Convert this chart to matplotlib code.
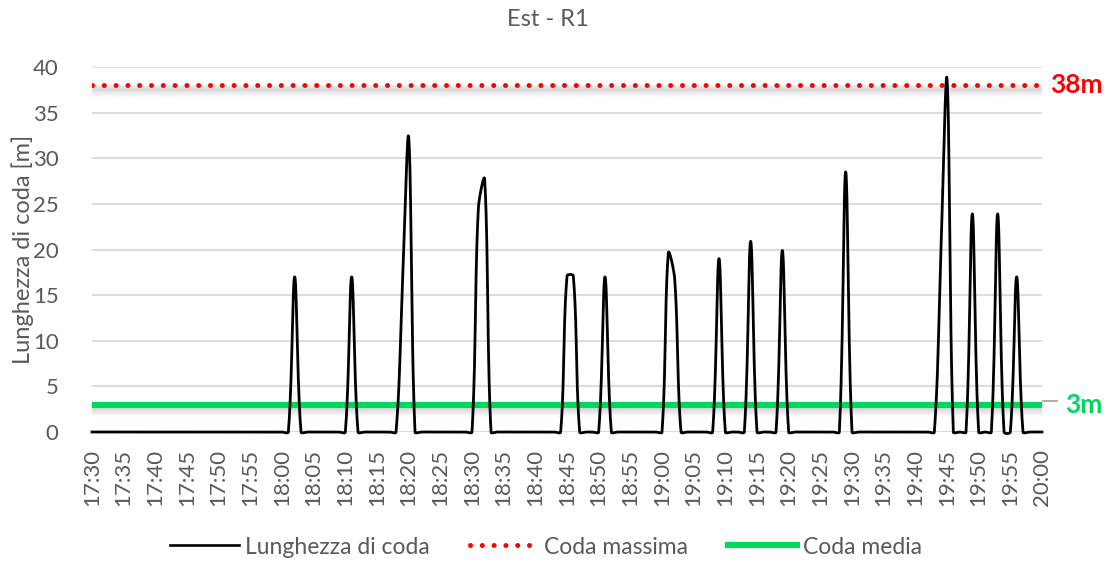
import numpy as np
import matplotlib
matplotlib.use("Agg")
import matplotlib.pyplot as plt
from matplotlib.lines import Line2D

# ---------------- data ----------------
start_label = "17:30"
end_label = "20:00"
tick_labels = ["17:30", "17:35", "17:40", "17:45", "17:50", "17:55",
               "18:00", "18:05", "18:10", "18:15", "18:20", "18:25",
               "18:30", "18:35", "18:40", "18:45", "18:50", "18:55",
               "19:00", "19:05", "19:10", "19:15", "19:20", "19:25",
               "19:30", "19:35", "19:40", "19:45", "19:50", "19:55",
               "20:00"]
queue_times = ["18:02", "18:11", "18:19", "18:20", "18:31", "18:32",
               "18:45", "18:46", "18:51", "19:01", "19:02", "19:09",
               "19:14", "19:19", "19:29", "19:44", "19:45", "19:49",
               "19:53", "19:56"]
queue_values = [17.0, 17.0, 16.0, 32.3, 24.5, 27.7,
                17.1, 17.1, 17.0, 19.6, 16.8, 19.0,
                20.9, 19.9, 28.5, 19.0, 38.7, 23.9,
                23.9, 17.0]
max_queue = 38
mean_queue = 3
max_label = "38m"
mean_label = "3m"


def to_min(s):
    h, m = s.split(":")
    return int(h) * 60 + int(m)


t0 = to_min(start_label)
n = to_min(end_label) - t0 + 1
series = np.zeros(n)
for t, v in zip(queue_times, queue_values):
    series[to_min(t) - t0] = v
xs = np.arange(n, dtype=float)

# screen scale (px per unit) used for length-weighted smoothing
PX_X = 950 / (n - 1)
PX_Y = 365 / 40


def smooth(x, y, steps=24, s=1 / 3):
    X = x * PX_X
    Y = y * PX_Y
    N = len(X)
    P = np.column_stack([X, Y])
    px, py = [], []
    for i in range(N - 1):
        p0 = P[max(i - 1, 0)]
        p1 = P[i]
        p2 = P[i + 1]
        p3 = P[min(i + 2, N - 1)]
        L01 = np.hypot(*(p1 - p0))
        L12 = np.hypot(*(p2 - p1))
        L23 = np.hypot(*(p3 - p2))
        c1 = p1 + (p2 - p0) * s * (L12 / (L01 + L12) if L01 + L12 > 0 else 0)
        c2 = p2 - (p3 - p1) * s * (L12 / (L12 + L23) if L12 + L23 > 0 else 0)
        t = np.linspace(0, 1, steps, endpoint=False)[:, None]
        B = (1 - t) ** 3 * p1 + 3 * (1 - t) ** 2 * t * c1 + 3 * (1 - t) * t ** 2 * c2 + t ** 3 * p2
        px.append(B[:, 0])
        py.append(B[:, 1])
    px.append(np.array([X[-1]]))
    py.append(np.array([Y[-1]]))
    return np.concatenate(px) / PX_X, np.concatenate(py) / PX_Y


sx, sy = smooth(xs, series)

# ---------------- figure ----------------
plt.rcParams['font.family'] = ['Lato', 'DejaVu Sans']
txt = '#595959'
fig = plt.figure(figsize=(11.15, 5.65), dpi=100)
ax = fig.add_axes([92 / 1115, 1 - 432 / 565, (1042 - 92) / 1115, (432 - 67) / 565])

ax.set_xlim(0, n - 1)
ax.set_ylim(0, 40)
for sp in ax.spines.values():
    sp.set_visible(False)
ax.set_yticks(np.arange(0, 41, 5))
ax.yaxis.grid(True, color='#d9d9d9', lw=1.3)
ax.set_axisbelow(True)
ax.tick_params(axis='both', length=0, colors=txt, labelsize=16)
ax.tick_params(axis='y', pad=24)
ax.set_xticks(np.arange(0, n, 5))
ax.set_xticklabels(tick_labels, rotation=90)
ax.tick_params(axis='x', pad=12)

# shadows
for k, a in zip([0.25, 0.45, 0.65, 0.85, 1.05], [0.12, 0.10, 0.07, 0.05, 0.03]):
    ax.plot([0, n - 1], [max_queue - k, max_queue - k], color='gray', lw=4, alpha=a,
            solid_capstyle='butt', zorder=2)
    ax.plot([0, n - 1], [mean_queue - k, mean_queue - k], color='gray', lw=4, alpha=a,
            solid_capstyle='butt', zorder=2)

ax.plot([0, n - 1], [max_queue, max_queue], color='#ff0000', lw=3.6,
        linestyle=(0, (0.01, 2.35)), dash_capstyle='round', zorder=3)
ax.plot([0, n - 1], [mean_queue, mean_queue], color='#00d75f', lw=4.5,
        solid_capstyle='butt', zorder=3)
ax.plot(sx, sy, color='black', lw=2.0, zorder=4, clip_on=False)

# labels on right
ax.text(1.008, max_queue, max_label, transform=ax.get_yaxis_transform(),
        color='#ff0000', fontsize=19, fontweight='bold', va='center', ha='left')
ax.text(1.024, mean_queue, mean_label, transform=ax.get_yaxis_transform(),
        color='#00d75f', fontsize=19, fontweight='bold', va='center', ha='left')
ax.plot([1.001, 1.016], [mean_queue + 0.35, mean_queue + 0.35], transform=ax.get_yaxis_transform(),
        color='#a6a6a6', lw=1.3, clip_on=False)

ax.set_ylabel('Lunghezza di coda [m]', color=txt, fontsize=17)
ax.yaxis.set_label_coords((34 - 92) / 950, 0.5)
fig.text(548 / 1115, 1 - 20 / 565, 'Est - R1', ha='center', va='center', color=txt, fontsize=17)

handles = [Line2D([], [], color='black', lw=1.9),
           Line2D([], [], color='#ff0000', lw=3.6, linestyle=(0, (0.01, 2.35)), dash_capstyle='round'),
           Line2D([], [], color='#00d75f', lw=4.5)]
leg = fig.legend(handles, ['Lunghezza di coda', 'Coda massima', 'Coda media'],
                 loc='center', bbox_to_anchor=(546 / 1115, 1 - 547 / 565), ncol=3,
                 frameon=False, fontsize=16.5, handlelength=3.0, columnspacing=1.75,
                 handletextpad=0.25)
for t in leg.get_texts():
    t.set_color(txt)

fig.savefig('out.png', dpi=100)
